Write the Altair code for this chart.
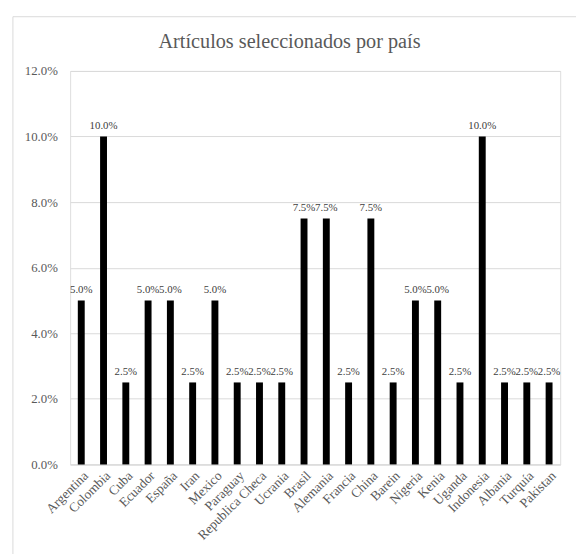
import altair as alt
import pandas as pd

titulo = "Artículos seleccionados por país"
paises = ["Argentina", "Colombia", "Cuba", "Ecuador", "España", "Iran", "Mexico",
          "Paraguay", "Republica Checa", "Ucrania", "Brasil", "Alemania", "Francia",
          "China", "Barein", "Nigeria", "Kenia", "Uganda", "Indonesia", "Albania",
          "Turquía", "Pakistan"]
valores = [0.05, 0.10, 0.025, 0.05, 0.05, 0.025, 0.05,
           0.025, 0.025, 0.025, 0.075, 0.075, 0.025,
           0.075, 0.025, 0.05, 0.05, 0.025, 0.10, 0.025,
           0.025, 0.025]

df = pd.DataFrame({"pais": paises, "valor": valores})

W, H = 497, 399
FONT = "Liberation Serif"

x = alt.X("pais:N", sort=paises, title=None,
          scale=alt.Scale(paddingInner=0.69, paddingOuter=0.345),
          axis=alt.Axis(labelAngle=-45, ticks=False, domainColor="#d9d9d9",
                        labelFont=FONT, labelFontSize=13.5, labelColor="#595959",
                        labelPadding=4))
y = alt.Y("valor:Q", title=None,
          scale=alt.Scale(domain=[0, 0.12]),
          axis=alt.Axis(format=".1%", values=[0, 0.02, 0.04, 0.06, 0.08, 0.10, 0.12],
                        ticks=False, domain=False, gridColor="#d9d9d9",
                        labelFont=FONT, labelFontSize=13, labelColor="#595959",
                        labelPadding=13))

border = alt.Chart(pd.DataFrame({"a": [0]})).mark_rect(
    fill=None, stroke="#d9d9d9", strokeWidth=1, clip=False
).encode(x=alt.value(-58), x2=alt.value(W + 60), y=alt.value(-55), y2=alt.value(H + 120))

title = alt.Chart(pd.DataFrame({"t": [titulo]})).mark_text(
    font=FONT, fontSize=20.5, color="#595959", baseline="alphabetic", align="center"
).encode(x=alt.value(W / 2 - 26), y=alt.value(-23), text="t:N")

bars = alt.Chart(df).mark_bar(color="black", size=7).encode(x=x, y=y)

labels = alt.Chart(df).mark_text(
    font=FONT, fontSize=11, color="#404040", baseline="alphabetic", dy=-8
).encode(x=alt.X("pais:N", sort=paises), y="valor:Q", text=alt.Text("valor:Q", format=".1%"))

chart = alt.layer(border, title, bars, labels).properties(
    width=W, height=H,
    autosize=alt.AutoSizeParams(type="none"),
    padding={"left": 63, "top": 60, "right": 16, "bottom": 87},
).configure_view(stroke=None).configure(background="white")

chart.save("out.html", embed_options={"renderer": "svg", "actions": False})
